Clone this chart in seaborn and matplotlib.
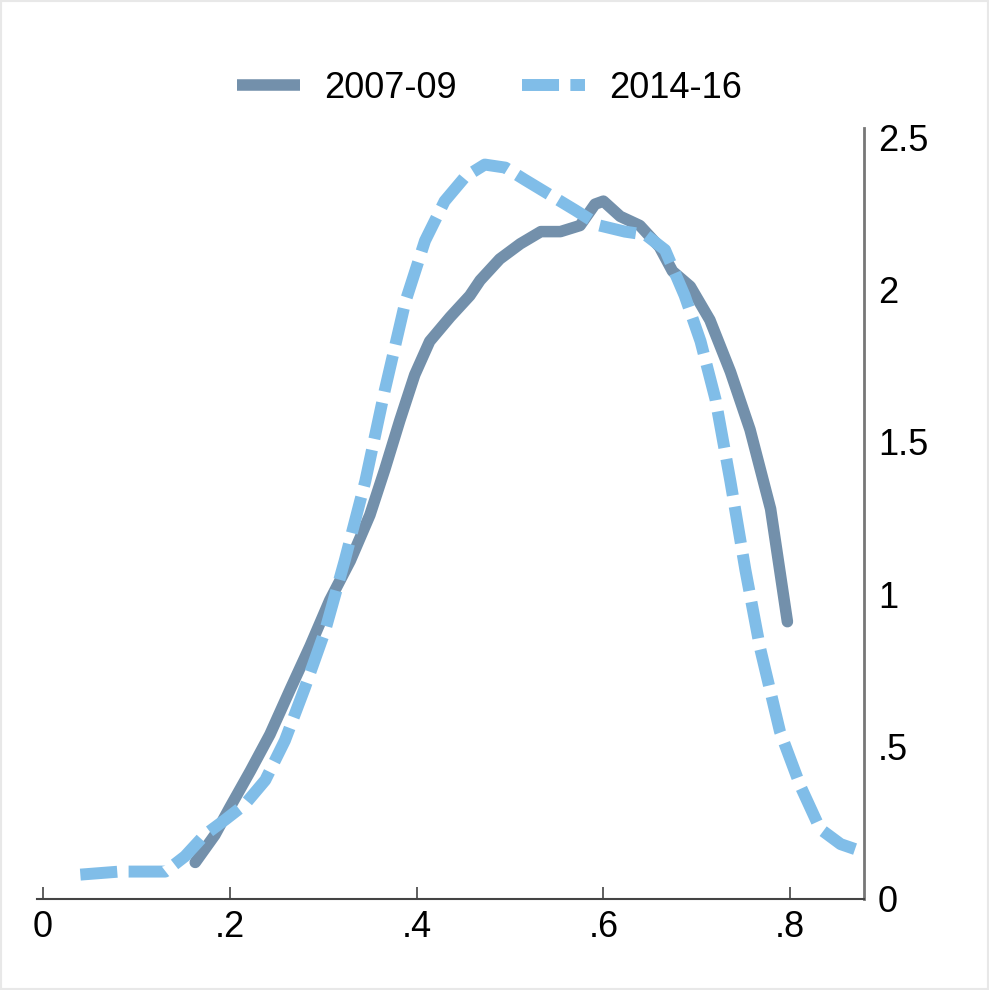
import matplotlib
matplotlib.use("Agg")
import matplotlib.pyplot as plt
from matplotlib.patches import Rectangle
from matplotlib.lines import Line2D
import seaborn as sns
import pandas as pd

# ---- data ----
x_0709 = [0.163, 0.184, 0.200, 0.222, 0.243, 0.265, 0.286, 0.307, 0.329, 0.350,
          0.366, 0.382, 0.398, 0.414, 0.436, 0.457, 0.468, 0.489, 0.511, 0.533,
          0.554, 0.575, 0.591, 0.600, 0.618, 0.639, 0.660, 0.674, 0.693, 0.714,
          0.736, 0.757, 0.779, 0.797]
y_0709 = [0.12, 0.21, 0.30, 0.42, 0.54, 0.69, 0.83, 0.98, 1.11, 1.26,
          1.41, 1.57, 1.72, 1.83, 1.91, 1.98, 2.03, 2.10, 2.15, 2.19,
          2.19, 2.21, 2.28, 2.29, 2.24, 2.21, 2.14, 2.06, 2.01, 1.90,
          1.73, 1.54, 1.28, 0.91]

x_1416 = [0.040, 0.082, 0.131, 0.152, 0.173, 0.195, 0.216, 0.238, 0.259, 0.280,
          0.302, 0.323, 0.345, 0.366, 0.388, 0.409, 0.430, 0.452, 0.473, 0.495,
          0.516, 0.543, 0.570, 0.596, 0.623, 0.645, 0.666, 0.687, 0.704, 0.720,
          0.736, 0.752, 0.768, 0.789, 0.811, 0.832, 0.854, 0.873]
y_1416 = [0.08, 0.09, 0.09, 0.14, 0.21, 0.26, 0.31, 0.39, 0.52, 0.69,
          0.88, 1.11, 1.37, 1.67, 1.96, 2.16, 2.29, 2.37, 2.41, 2.40,
          2.36, 2.31, 2.26, 2.21, 2.19, 2.18, 2.13, 1.98, 1.83, 1.64,
          1.37, 1.08, 0.82, 0.55, 0.37, 0.23, 0.18, 0.16]

series_labels = ["2007-09", "2014-16"]
x_ticks = [0, 0.2, 0.4, 0.6, 0.8]
x_tick_labels = ["0", ".2", ".4", ".6", ".8"]
y_ticks = [0, 0.5, 1, 1.5, 2, 2.5]
y_tick_labels = ["0", ".5", "1", "1.5", "2", "2.5"]

col_solid = "#7390ab"
col_dash = "#80bde8"
lw_solid = 8.3
lw_dash = 8.6
dash_pat = (3.1, 0.95)

sns.set_style("white")
plt.rcParams["font.family"] = ["Liberation Sans", "DejaVu Sans"]
plt.rcParams["text.color"] = "black"
plt.rcParams["xtick.labelcolor"] = "black"
plt.rcParams["ytick.labelcolor"] = "black"

df_a = pd.DataFrame({"x": x_0709, "y": y_0709})
df_b = pd.DataFrame({"x": x_1416, "y": y_1416})

fig = plt.figure(figsize=(9.89, 9.90), dpi=100)
ax = fig.add_axes([37 / 989, 1 - 899 / 990, (864 - 37) / 989, (899 - 128) / 990])

sns.lineplot(data=df_a, x="x", y="y", ax=ax, color=col_solid, linewidth=lw_solid,
             estimator=None, sort=False)
sns.lineplot(data=df_b, x="x", y="y", ax=ax, color=col_dash, linewidth=lw_dash,
             estimator=None, sort=False)
ax.lines[0].set_solid_capstyle("round")
ax.lines[0].set_solid_joinstyle("round")
ax.lines[1].set_dashes(dash_pat)
ax.lines[1].set_dash_capstyle("butt")

ax.set_xlim(-0.0064, 0.879)
ax.set_ylim(0, 2.53)
ax.set_xlabel("")
ax.set_ylabel("")

for s in ["left", "top"]:
    ax.spines[s].set_visible(False)
ax.spines["bottom"].set_color("#444444")
ax.spines["bottom"].set_linewidth(1.5)
ax.spines["right"].set_visible(True)
ax.spines["right"].set_color("#777777")
ax.spines["right"].set_linewidth(2.0)

ax.set_xticks(x_ticks)
ax.set_xticklabels(x_tick_labels)
ax.yaxis.tick_right()
ax.set_yticks(y_ticks)
ax.set_yticklabels(y_tick_labels)
ax.tick_params(axis="x", direction="in", length=8.6, width=1.2, color="#444444",
               pad=8, labelsize=26, bottom=True, labelcolor="black")
ax.tick_params(axis="y", length=0, pad=10, labelsize=26, right=True, left=False,
               labelcolor="black")

handles = [Line2D([], [], color=col_solid, linewidth=lw_solid, solid_capstyle="butt"),
           Line2D([], [], color=col_dash, linewidth=lw_dash, dashes=dash_pat)]
fig.legend(handles, series_labels, loc="center", bbox_to_anchor=(0.495, 0.911),
           ncol=2, frameon=False, fontsize=26, handlelength=1.75,
           handletextpad=0.66, columnspacing=1.8, labelcolor="black")

fig.patches.append(Rectangle((0, 0), 1, 1, transform=fig.transFigure, fill=False,
                             edgecolor="#e8e8e8", linewidth=3))

fig.savefig("out.png", dpi=100, facecolor="white")
